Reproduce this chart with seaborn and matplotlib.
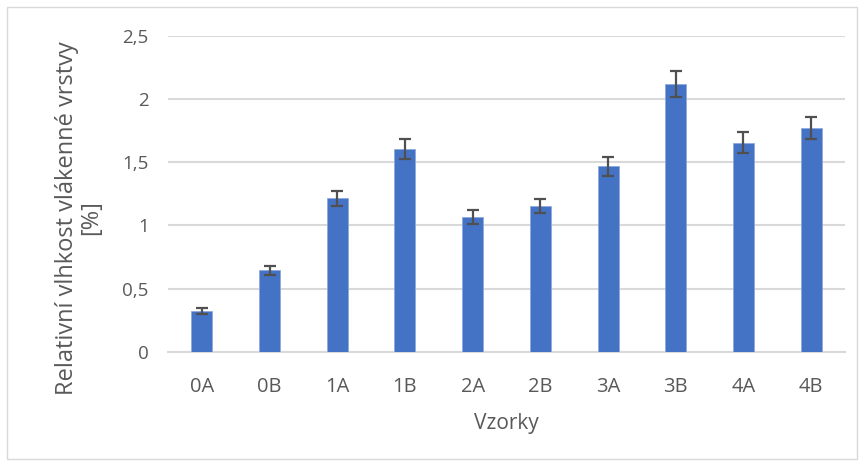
import matplotlib
matplotlib.use("Agg")
import matplotlib.pyplot as plt
import seaborn as sns
import numpy as np
import pandas as pd

categories = ["0A", "0B", "1A", "1B", "2A", "2B", "3A", "3B", "4A", "4B"]
values = [0.322, 0.644, 1.213, 1.604, 1.068, 1.153, 1.467, 2.118, 1.654, 1.770]
errors = [0.020, 0.034, 0.062, 0.082, 0.054, 0.059, 0.075, 0.105, 0.085, 0.089]
yticks = [0, 0.5, 1, 1.5, 2, 2.5]
ytick_labels = ["0", "0,5", "1", "1,5", "2", "2,5"]

sns.set_theme(style="white")
plt.rcParams["font.family"] = ["Open Sans", "DejaVu Sans"]

df = pd.DataFrame({"Vzorky": categories, "val": values})

fig = plt.figure(figsize=(8.64, 4.66), dpi=100)
ax = fig.add_axes([168 / 864, 1 - 351.7 / 466, (845 - 168) / 864, (351.7 - 35.7) / 466])

sns.barplot(data=df, x="Vzorky", y="val", order=categories, color="#4472C4",
            saturation=1, width=0.31, errorbar=None, ax=ax,
            edgecolor="#8FAADC", linewidth=0.6, zorder=3)

pos = np.arange(len(categories))
ax.errorbar(pos, values, yerr=errors, fmt="none", ecolor="#505050",
            elinewidth=1.6, capsize=4.3, capthick=1.6, zorder=4)

ax.set_xlim(-0.5, len(categories) - 0.5)
ax.set_ylim(0, 2.5)
ax.set_yticks(yticks)
ax.set_yticklabels(ytick_labels)
ax.yaxis.grid(True, color="#D9D9D9", linewidth=1.5, zorder=0)
ax.set_axisbelow(True)
for s in ["top", "right", "left"]:
    ax.spines[s].set_visible(False)
ax.spines["bottom"].set_color("#D9D9D9")
ax.spines["bottom"].set_linewidth(1.5)
ax.tick_params(axis="both", length=0, colors="#595959")
ax.tick_params(axis="y", labelsize=13.5, pad=14)
ax.tick_params(axis="x", labelsize=14.5, pad=18)

ax.set_xlabel("Vzorky", fontsize=15, color="#595959", labelpad=12)
ax.set_ylabel("Relativní vlhkost vlákenné vrstvy\n[%]", fontsize=17,
              color="#595959", linespacing=1.0)
ax.yaxis.set_label_coords((103 - 168) / 677, (351.7 - 218) / 316)

# figure border
fig.patches.append(plt.Rectangle((7 / 864, 7 / 466), (857 - 7) / 864, (459 - 7) / 466,
                                 transform=fig.transFigure, fill=False,
                                 edgecolor="#D9D9D9", linewidth=1.0))

fig.savefig("out.png", dpi=100)
